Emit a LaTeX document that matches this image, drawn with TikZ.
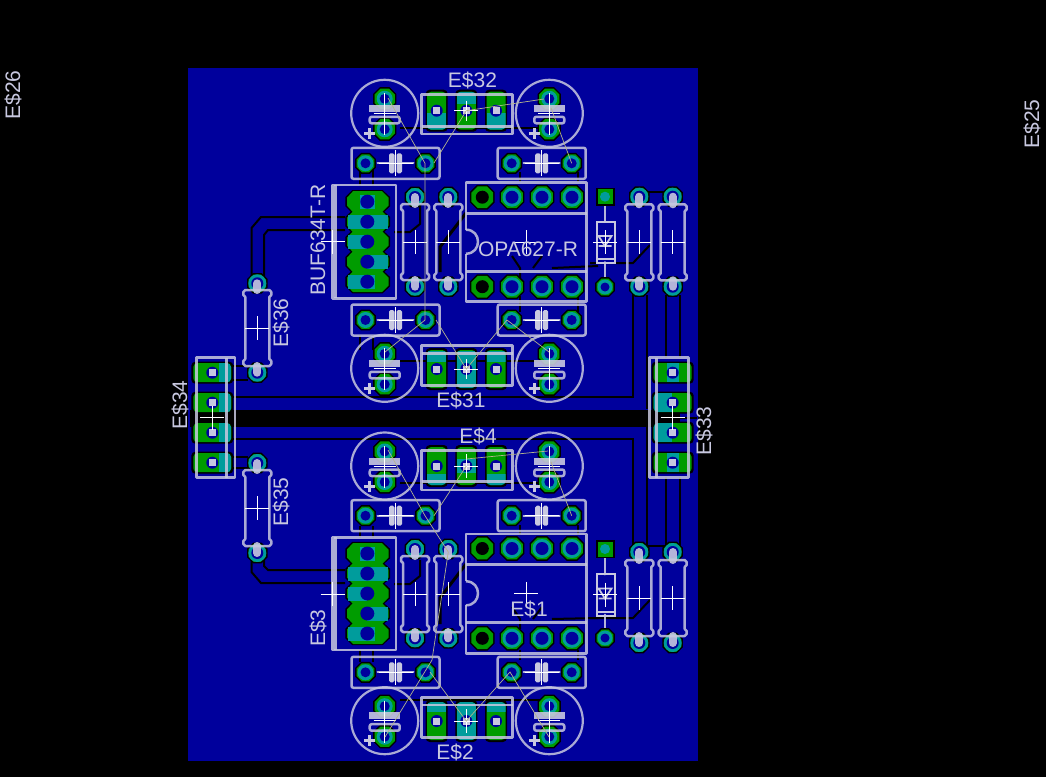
\documentclass[tikz,border=0pt]{standalone}
\usepackage{fontspec}
\setmainfont{Liberation Sans}
\usetikzlibrary{calc}
\definecolor{board}{HTML}{00009C}
\definecolor{cu}{HTML}{009C00}
\definecolor{tl}{HTML}{009C9C}
\definecolor{silk}{HTML}{C8C8E0}
\definecolor{rats}{HTML}{B4B48C}
\tikzset{
	trace/.style={black,line width=1pt},
	silkline/.style={silk,opacity=.85,line width=1.25pt,line join=round},
	lead/.style={silk,opacity=.9,line width=1pt,line cap=round},
	tick/.style={white,line width=.5pt},
	airwire/.style={rats,line width=.35pt},
	lbl/.style={text=silk,font=\fontsize{10.5}{12}\selectfont,inner sep=0pt},
}
% octagon pad: x, y, radius, ring colour, hole radius, hole colour
\def\via(#1,#2,#3,#4,#5,#6){
	\filldraw[black,line width=1.5pt] plot[samples at={22.5,67.5,...,337.5},variable=\a] ({#1+#3*cos(\a)},{#2+#3*sin(\a)}) -- cycle;
	\fill[cu] plot[samples at={22.5,67.5,...,337.5},variable=\a] ({#1+#3*cos(\a)},{#2+#3*sin(\a)}) -- cycle;
	\ifx#4c\else\fill[#4] (#1,#2) circle (#5+3);\fi
	\fill[#6] (#1,#2) circle (#5);
}
\def\cross(#1,#2,#3,#4){\draw[tick] ({#1-#3},#2) -- ({#1+#3},#2) (#1,{#2-#4}) -- (#1,{#2+#4});}
\def\hole(#1,#2){
	\fill[board] (#1,#2) circle (6);
	\fill[silk] ({#1-3.5},{#2-3.5}) rectangle ({#1+3.5},{#2+3.5});
}
% regulator pad: x, y, teal from, teal to
\def\regpad(#1,#2,#3,#4){
	\fill[black,rounded corners=2pt] ({#1-11},{#2-21}) rectangle ({#1+11},{#2+21});
	\fill[cu,rounded corners=2pt] ({#1-9.5},{#2-19}) rectangle ({#1+9.5},{#2+19});
	\begin{scope}
		\clip[rounded corners=2pt] ({#1-9.5},{#2-19}) rectangle ({#1+9.5},{#2+19});
		\fill[tl] ({#1-9.5},#3) rectangle ({#1+9.5},#4);
	\end{scope}
	\hole(#1,#2)
}
% connector pad: x, y, teal from, teal to
\def\conpad(#1,#2,#3,#4){
	\fill[black,rounded corners=2pt] ({#1-21},{#2-11}) rectangle ({#1+21},{#2+11});
	\fill[cu,rounded corners=2pt] ({#1-19},{#2-9.5}) rectangle ({#1+19},{#2+9.5});
	\begin{scope}
		\clip[rounded corners=2pt] ({#1-19},{#2-9.5}) rectangle ({#1+19},{#2+9.5});
		\fill[tl] (#3,{#2-9.5}) rectangle (#4,{#2+9.5});
	\end{scope}
	\hole(#1,#2)
}
% radial capacitor: centre
\def\elec(#1,#2){
	\via(#1,{#2-14.5},11,tl,5,board)
	\via(#1,{#2+16},11,tl,5,board)
	\draw[silk,opacity=.85,line width=1.1pt] (#1,#2) circle (33.5);
	\fill[silk,opacity=.9] ({#1-15.5},{#2-8.5}) rectangle ({#1+15.5},{#2-1.5});
	\draw[silkline,rounded corners=1pt] ({#1-15},{#2+3.5}) rectangle ({#1+15},{#2+10});
	\draw[silk,line width=1.5pt] ({#1-20.5},{#2+20}) -- ({#1-9.5},{#2+20}) ({#1-15},{#2+14.5}) -- ({#1-15},{#2+25.5});
	\draw[tick] ({#1-11},#2) -- ({#1+11},#2) (#1,{#2-20}) -- (#1,{#2+22});
}
% film capacitor: centre
\def\film(#1,#2){
	\via({#1-30},#2,9.7,tl,5,board)
	\via({#1+30},#2,9.7,tl,5,board)
	\draw[silkline,rounded corners=1pt] ({#1-44},{#2-15.5}) rectangle ({#1+44},{#2+15.5});
	\draw[lead] ({#1-18},#2) -- ({#1-6},#2) ({#1+6},#2) -- ({#1+18},#2);
	\fill[silk,rounded corners=.8pt] ({#1-6.5},{#2-10}) rectangle ({#1-1},{#2+10});
	\fill[silk,rounded corners=.8pt] ({#1+1},{#2-10}) rectangle ({#1+6.5},{#2+10});
	\cross(#1,#2,17,13)
}
% regulator outline: x left, y top, x right, y bottom, tab line
\def\regbox(#1,#2,#3,#4,#5){
	\draw[silkline] (#1,#2) rectangle (#3,#4);
	\draw[silkline] (#1,#5) -- (#3,#5);
}
% axial resistor: x, body centre, pad above, pad below
\def\resv(#1,#2,#3,#4){
	\via(#1,#3,9.5,tl,6,board)
	\via(#1,#4,9.5,tl,6,board)
	\draw[silk,opacity=.9,line width=4pt,line cap=round] (#1,#3) -- (#1,{#2-38}) (#1,#4) -- (#1,{#2+38});
	\draw[silkline] ({#1-12},{#2-38}) -- ({#1+12},{#2-38}) -- ({#1+14},{#2-36}) -- ({#1+14},{#2-33}) -- ({#1+12},{#2-31}) -- ({#1+12},{#2+31}) -- ({#1+14},{#2+33}) -- ({#1+14},{#2+36}) -- ({#1+12},{#2+38}) -- ({#1-12},{#2+38}) -- ({#1-14},{#2+36}) -- ({#1-14},{#2+33}) -- ({#1-12},{#2+31}) -- ({#1-12},{#2-31}) -- ({#1-14},{#2-33}) -- ({#1-14},{#2-36}) -- cycle;
	\cross(#1,#2,12,12)
}
% dual in line body: y top, upper line, notch, lower line, y bottom
\def\dip(#1,#2,#3,#4,#5){
	\foreach \xp in {482.3,512,542,572} {
		\ifdim\xp pt=482.3pt
			\via(\xp,{#1+14.5},11.8,c,6.5,black)
			\via(\xp,{#5-15},11.8,c,6.5,black)
		\else
			\via(\xp,{#1+14.5},11.8,tl,6.5,board)
			\via(\xp,{#5-15},11.8,tl,6.5,board)
		\fi
	}
	\draw[silkline] (466,{#3-12}) .. controls (482,{#3-12}) and (482,{#3+12}) .. (466,{#3+12});
	\draw[silkline] (466,{#3-12}) -- (466,#1) -- (586.5,#1) -- (586.5,#5) -- (466,#5) -- (466,{#3+12});
	\draw[silkline] (466,#2) -- (586.5,#2) (466,#4) -- (586.5,#4);
	\cross(526,{#3+.5},12,12)
}
% header stack: y of first pad
\def\hdr(#1){
	\foreach \dy in {0,20,40,60,80} {
		\filldraw[black,line width=1.6pt] (347,{#1+\dy-4}) -- (353,{#1+\dy-10}) -- (382,{#1+\dy-10}) -- (388.5,{#1+\dy-4}) -- (388.5,{#1+\dy+4}) -- (382,{#1+\dy+10}) -- (353,{#1+\dy+10}) -- (347,{#1+\dy+4}) -- cycle;
	}
	\foreach \dy in {0,20,40,60,80} {
		\fill[cu] (347,{#1+\dy-4}) -- (353,{#1+\dy-10.5}) -- (382,{#1+\dy-10.5}) -- (388.5,{#1+\dy-4}) -- (388.5,{#1+\dy+4}) -- (382,{#1+\dy+10.5}) -- (353,{#1+\dy+10.5}) -- (347,{#1+\dy+4}) -- cycle;
	}
	\foreach \dy/\ta/\tb in {0/360/375,20/347.5/388,40/347.5/367,60/367/388,80/347.5/375} {
		\fill[tl] (\ta,{#1+\dy-7}) rectangle (\tb,{#1+\dy+7});
		\fill[board] (367.3,{#1+\dy}) circle (7);
	}
}
\begin{document}
\begin{tikzpicture}[x=.5pt,y=-.5pt]
		\useasboundingbox (0,0) rectangle (1046,777);
		%%%%% BOARD %%%%%
		\fill[black] (0,0) rectangle (1046,777);
		\fill[board] (188,68) rectangle (697.5,761);
		\fill[black] (190,409.5) rectangle (680,426.5);
		\draw[trace] (680,418) -- (697,418);
		
		%%%%% TRACES %%%%%
		\draw[trace] (228,396.5) -- (633,396.5) -- (633,290);
		\draw[trace] (228,438.5) -- (633,438.5) -- (633,555);
		\draw[trace] (647,295) -- (647,409) (647,427) -- (647,555);
		\draw[trace] (666,295) -- (666,358) (680,295) -- (680,358);
		\draw[trace] (666,477) -- (666,555) (680,477) -- (680,555);
		\draw[trace] (251.5,280) -- (251.5,228) -- (261,217) -- (345,217);
		\draw[trace] (264,280) -- (264,235) -- (268,230) -- (345,230);
		\draw[trace] (251.5,550) -- (251.5,572) -- (261,583) -- (345,583);
		\draw[trace] (264,550) -- (264,566) -- (268,570) -- (345,570);
		\draw[trace] (230,366) -- (248,366) (230,380) -- (248,380);
		\draw[trace] (230,456.5) -- (248,456.5) (230,468) -- (248,468);
		\draw[trace] (400,128) -- (540,128) (400,360.5) -- (540,360.5);
		\draw[trace] (400,483) -- (540,483) (400,700) -- (540,700);
		\draw[trace] (360,170) -- (360,186) (373,170) -- (373,186);
		\draw[trace] (360,335) -- (360,350) (373,335) -- (373,350);
		\draw[trace] (360,526) -- (360,538) (373,526) -- (373,538);
		\draw[trace] (360,650) -- (360,662) (373,650) -- (373,662);
		\draw[trace] (520,172) -- (520,182) (578,172) -- (578,182);
		\draw[trace] (520,296) -- (520,312) (578,296) -- (578,312);
		\draw[trace] (520,525) -- (520,535) (578,525) -- (578,535);
		\draw[trace] (520,650) -- (520,660) (578,650) -- (578,660);
		\draw[trace] (420,205) -- (420,224) -- (410,232) -- (394,232);
		\draw[trace] (420,560) -- (420,576) -- (410,584) -- (394,584);
		\draw[black,line width=1.5pt] (466,213) -- (440,247) -- (440,272);
		\draw[black,line width=1.5pt] (466,564) -- (440,598) -- (440,624);
		\draw[trace] (512,256) -- (520,268) -- (520,278) (542,256) -- (533,268);
		\draw[trace] (512,607) -- (520,619) -- (520,629) (542,607) -- (533,619);
		\draw[trace] (552,268) -- (598,266) (552,619) -- (598,618);
		\draw[trace] (590,263) -- (633,263) -- (650,245);
		\draw[trace] (590,618) -- (633,618) -- (650,600);
		\draw[trace] (647,192) -- (665,192) (647,546) -- (665,546);
		
		%%%%% RADIAL CAPS %%%%%
		\foreach \yc in {113.3,368.3,466,720.7} {
			\elec(384.7,\yc)
			\elec(549.3,\yc)
		}
		
		%%%%% FILM CAPS %%%%%
		\foreach \yc in {163.3,320,515.7,672.3} {
			\film(395.5,\yc)
			\film(541.7,\yc)
		}
		
		%%%%% REGULATORS %%%%%
		\regpad(436.7,110.7,113,130) \regpad(466.3,110.7,92,104) \regpad(496,110.7,113,130)
		\regpad(436.7,369,351,362) \regpad(466.3,369,351,388) \regpad(496,369,351,362)
		\regpad(436.7,466,474,486) \regpad(466.3,466,459,473) \regpad(496,466,474,486)
		\regpad(436.7,721,702,712) \regpad(466.3,721,702,740) \regpad(496,721,702,712)
		\regbox(421.7,94.3,512.7,134,126.7)
		\regbox(421.7,345.7,512.7,385.7,353.3)
		\regbox(421.7,450.7,512.7,490,481.7)
		\regbox(421.7,697.7,512.7,737.3,705)
		\cross(466.3,110.7,12,10)
		\cross(466.3,369,12,10)
		\cross(466.3,466,12,12)
		\cross(466.3,721,12,12)
		
		%%%%% OPAMPS %%%%%
		\dip(182.7,213.3,241.7,271.7,301.7)
		\dip(534,564.3,593.3,622.3,653.3)
		
		%%%%% RESISTORS %%%%%
		\resv(415,242,197,286.7)
		\resv(448.3,242,197,286.7)
		\resv(415,594,549,638.3)
		\resv(448.3,594,549,638.3)
		\resv(639.3,242.3,196.7,286.7)
		\resv(672.7,242.3,196.7,286.7)
		\resv(639.3,598,552,643)
		\resv(672.7,598,552,643)
		\resv(257.3,328,283.3,372.7)
		\resv(257.3,508,463,553)
		
		%%%%% DIODES %%%%%
		\foreach \yc/\yt/\yb in {242/196.7/287,594.5/549/638} {
			\draw[lead] (605,\yt) -- (605,{\yc-20}) (605,{\yc+20}) -- (605,\yb);
			\fill[black] (596,{\yt-9}) rectangle (614.5,{\yt+9});
			\fill[cu] (598,{\yt-7.5}) rectangle (612.5,{\yt+7.5});
			\fill[tl] (605,\yt) circle (5);
			\via(605,\yb,9,tl,4.5,board)
			\draw[silk,line width=1pt] (596.7,{\yc-20.5}) rectangle (615.3,{\yc+21});
			\draw[silk,line width=1pt] (596.7,{\yc+17}) -- (615.3,{\yc+17});
			\draw[silk,line width=.9pt] (598.5,{\yc-6}) -- (611.5,{\yc-6}) -- (605,{\yc+4}) -- cycle (598.5,{\yc+4}) -- (611.5,{\yc+4});
			\cross(605,\yc,12,12)
		}
		
		%%%%% CONNECTORS %%%%%
		\hdr(201.7)
		\hdr(553.5)
		\draw[silkline] (332.7,185) rectangle (396,298.3);
		\draw[silkline] (335.5,185) -- (335.5,298.3);
		\draw[silkline] (332.7,537.3) rectangle (396,650);
		\draw[silkline] (335.5,537.3) -- (335.5,650);
		\cross(332.7,241.7,12,12)
		\cross(332.7,594,12,12)
		
		\conpad(212.3,372.7,219,231) \conpad(212.3,402.7,219,231)
		\conpad(212.3,432.7,219,231) \conpad(212.3,462.7,219,231)
		\draw[silkline] (196.7,357.7) rectangle (235,477.7);
		\draw[silkline] (226.7,357.7) -- (226.7,477.7);
		\cross(212.3,417.7,12,12)
		
		\conpad(672.7,372.7,667,679) \conpad(672.7,402.7,653,672)
		\conpad(672.7,432.7,653,672) \conpad(672.7,462.7,667,679)
		\draw[silkline] (649.3,357.7) rectangle (688.7,477.7);
		\draw[silkline] (656.7,357.7) -- (656.7,477.7);
		\cross(672.7,417.7,12,12)
		
		%%%%% AIRWIRES %%%%%
		\draw[airwire] (388,98) -- (425,163.3) -- (425,320) -- (385,352);
		\draw[airwire] (466.3,110.7) -- (434,163) (466.3,110.7) -- (544,99);
		\draw[airwire] (551,108) -- (571.7,163.3);
		\draw[airwire] (436,320) -- (466.3,369) -- (507,320) -- (549,352);
		\draw[airwire] (388,450) -- (425,515.7) -- (448.3,552) -- (432,660) -- (385,737);
		\draw[airwire] (466.3,466) -- (434,515.7) (466.3,459) -- (548,451);
		\draw[airwire] (551,462) -- (571.7,515.7);
		\draw[airwire] (430,672) -- (466.3,721) -- (510,672) -- (549,737);
		
		%%%%% LABELS %%%%%
		\node[lbl,rotate=90] (lab26) at (13,95) {E\$26};
		\node[lbl,rotate=90] (lab25) at (1032,124) {E\$25};
		\node[lbl] (lab32) at (472.5,80) {E\$32};
		\node[lbl] (lab31) at (461,400) {E\$31};
		\node[lbl] (lab4) at (478,436) {E\$4};
		\node[lbl] (lab2) at (455,752) {E\$2};
		\node[lbl] (lab1) at (529,609) {E\$1};
		\node[lbl] (labopa) at (528,249) {OPA627-R};
		\node[lbl,rotate=90] (labbuf) at (318,240) {BUF634T-R};
		\node[lbl,rotate=90] (lab3) at (318,628) {E\$3};
		\node[lbl,rotate=90] (lab36) at (281,323) {E\$36};
		\node[lbl,rotate=90] (lab35) at (281,502) {E\$35};
		\node[lbl,rotate=90] (lab34) at (180,405) {E\$34};
		\node[lbl,rotate=90] (lab33) at (704,431) {E\$33};
	\end{tikzpicture}
\end{document}
